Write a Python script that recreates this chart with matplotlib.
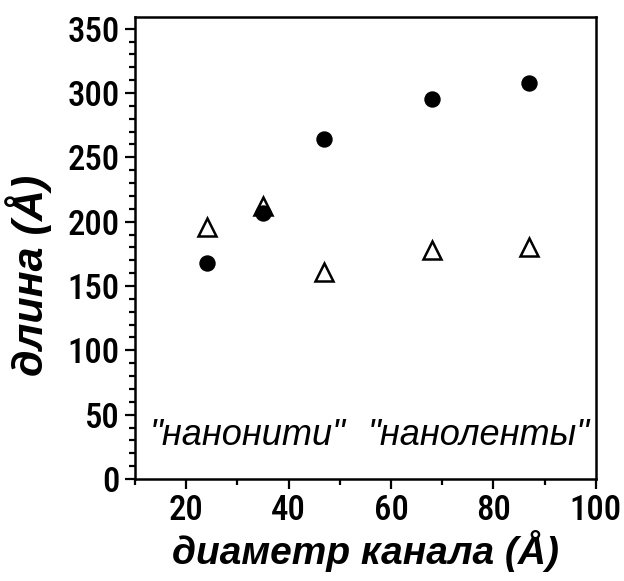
import matplotlib
matplotlib.use("Agg")
import matplotlib.pyplot as plt
from matplotlib import font_manager
from matplotlib.ticker import MultipleLocator

# channel diameter (A) and segment lengths (A)
diam_filled = [24, 35, 47, 68, 87]
len_filled = [168, 207, 264, 295, 308]
diam_open = [24, 35, 47, 68, 87]
len_open = [196, 212, 161, 178, 180]

xticks = [20, 40, 60, 80, 100]
yticks = [0, 50, 100, 150, 200, 250, 300, 350]


def narrow_family():
    # look for any condensed sans face for the tick numbers
    names = {f.name for f in font_manager.fontManager.ttflist}
    for n in ['Liberation Sans Narrow', 'Arial Narrow', 'Roboto Condensed',
              'DejaVu Sans Condensed', 'Open Sans Condensed', 'Noto Sans Condensed']:
        if n in names:
            return n, 'normal'
    for f in font_manager.fontManager.ttflist:
        if 'condensed' in str(f.stretch).lower() or 'narrow' in f.name.lower():
            return f.name, f.stretch
    return 'Liberation Sans', 'normal'


tick_name, tick_stretch = narrow_family()
text_font = ['Liberation Sans', 'DejaVu Sans']

fig = plt.figure(figsize=(6.24, 5.81), dpi=100)
ax = fig.add_axes([0.2163, 0.1756, 0.7387, 0.795])

ax.plot(diam_filled, len_filled, 'o', color='black', ms=10.8, zorder=3)
ax.plot(diam_open, len_open, '^', mfc='white', mec='black', ms=13, mew=1.8,
        zorder=2)

ax.set_xlim(10, 100)
ax.set_ylim(0, 359)
ax.set_xticks(xticks)
ax.set_yticks(yticks)
ax.xaxis.set_minor_locator(MultipleLocator(10))
ax.yaxis.set_minor_locator(MultipleLocator(10))

for s in ax.spines.values():
    s.set_linewidth(1.8)
ax.tick_params(which='both', direction='out', width=1.6, top=False, right=False)
ax.tick_params(which='major', length=7, pad=4)
ax.tick_params(which='minor', length=4)

for lab in ax.get_xticklabels() + ax.get_yticklabels():
    lab.set_family([tick_name, 'DejaVu Sans'])
    lab.set_stretch(tick_stretch)
    lab.set_fontsize(25)
    lab.set_fontweight('medium')

ax.set_xlabel('диаметр канала (Å)', family=text_font, fontsize=28,
              fontweight='bold', style='italic', labelpad=2)
ax.set_ylabel('длина (Å)', family=text_font, fontsize=31,
              fontweight='bold', style='italic')
ax.yaxis.set_label_coords(-0.18, 0.44)

ax.text(12.9, 34, '"нанонити"', family=text_font, fontsize=26,
        style='italic', va='center', ha='left')
ax.text(98.8, 34, '"наноленты"', family=text_font, fontsize=26,
        style='italic', va='center', ha='right')

fig.savefig('out.png', dpi=100)
